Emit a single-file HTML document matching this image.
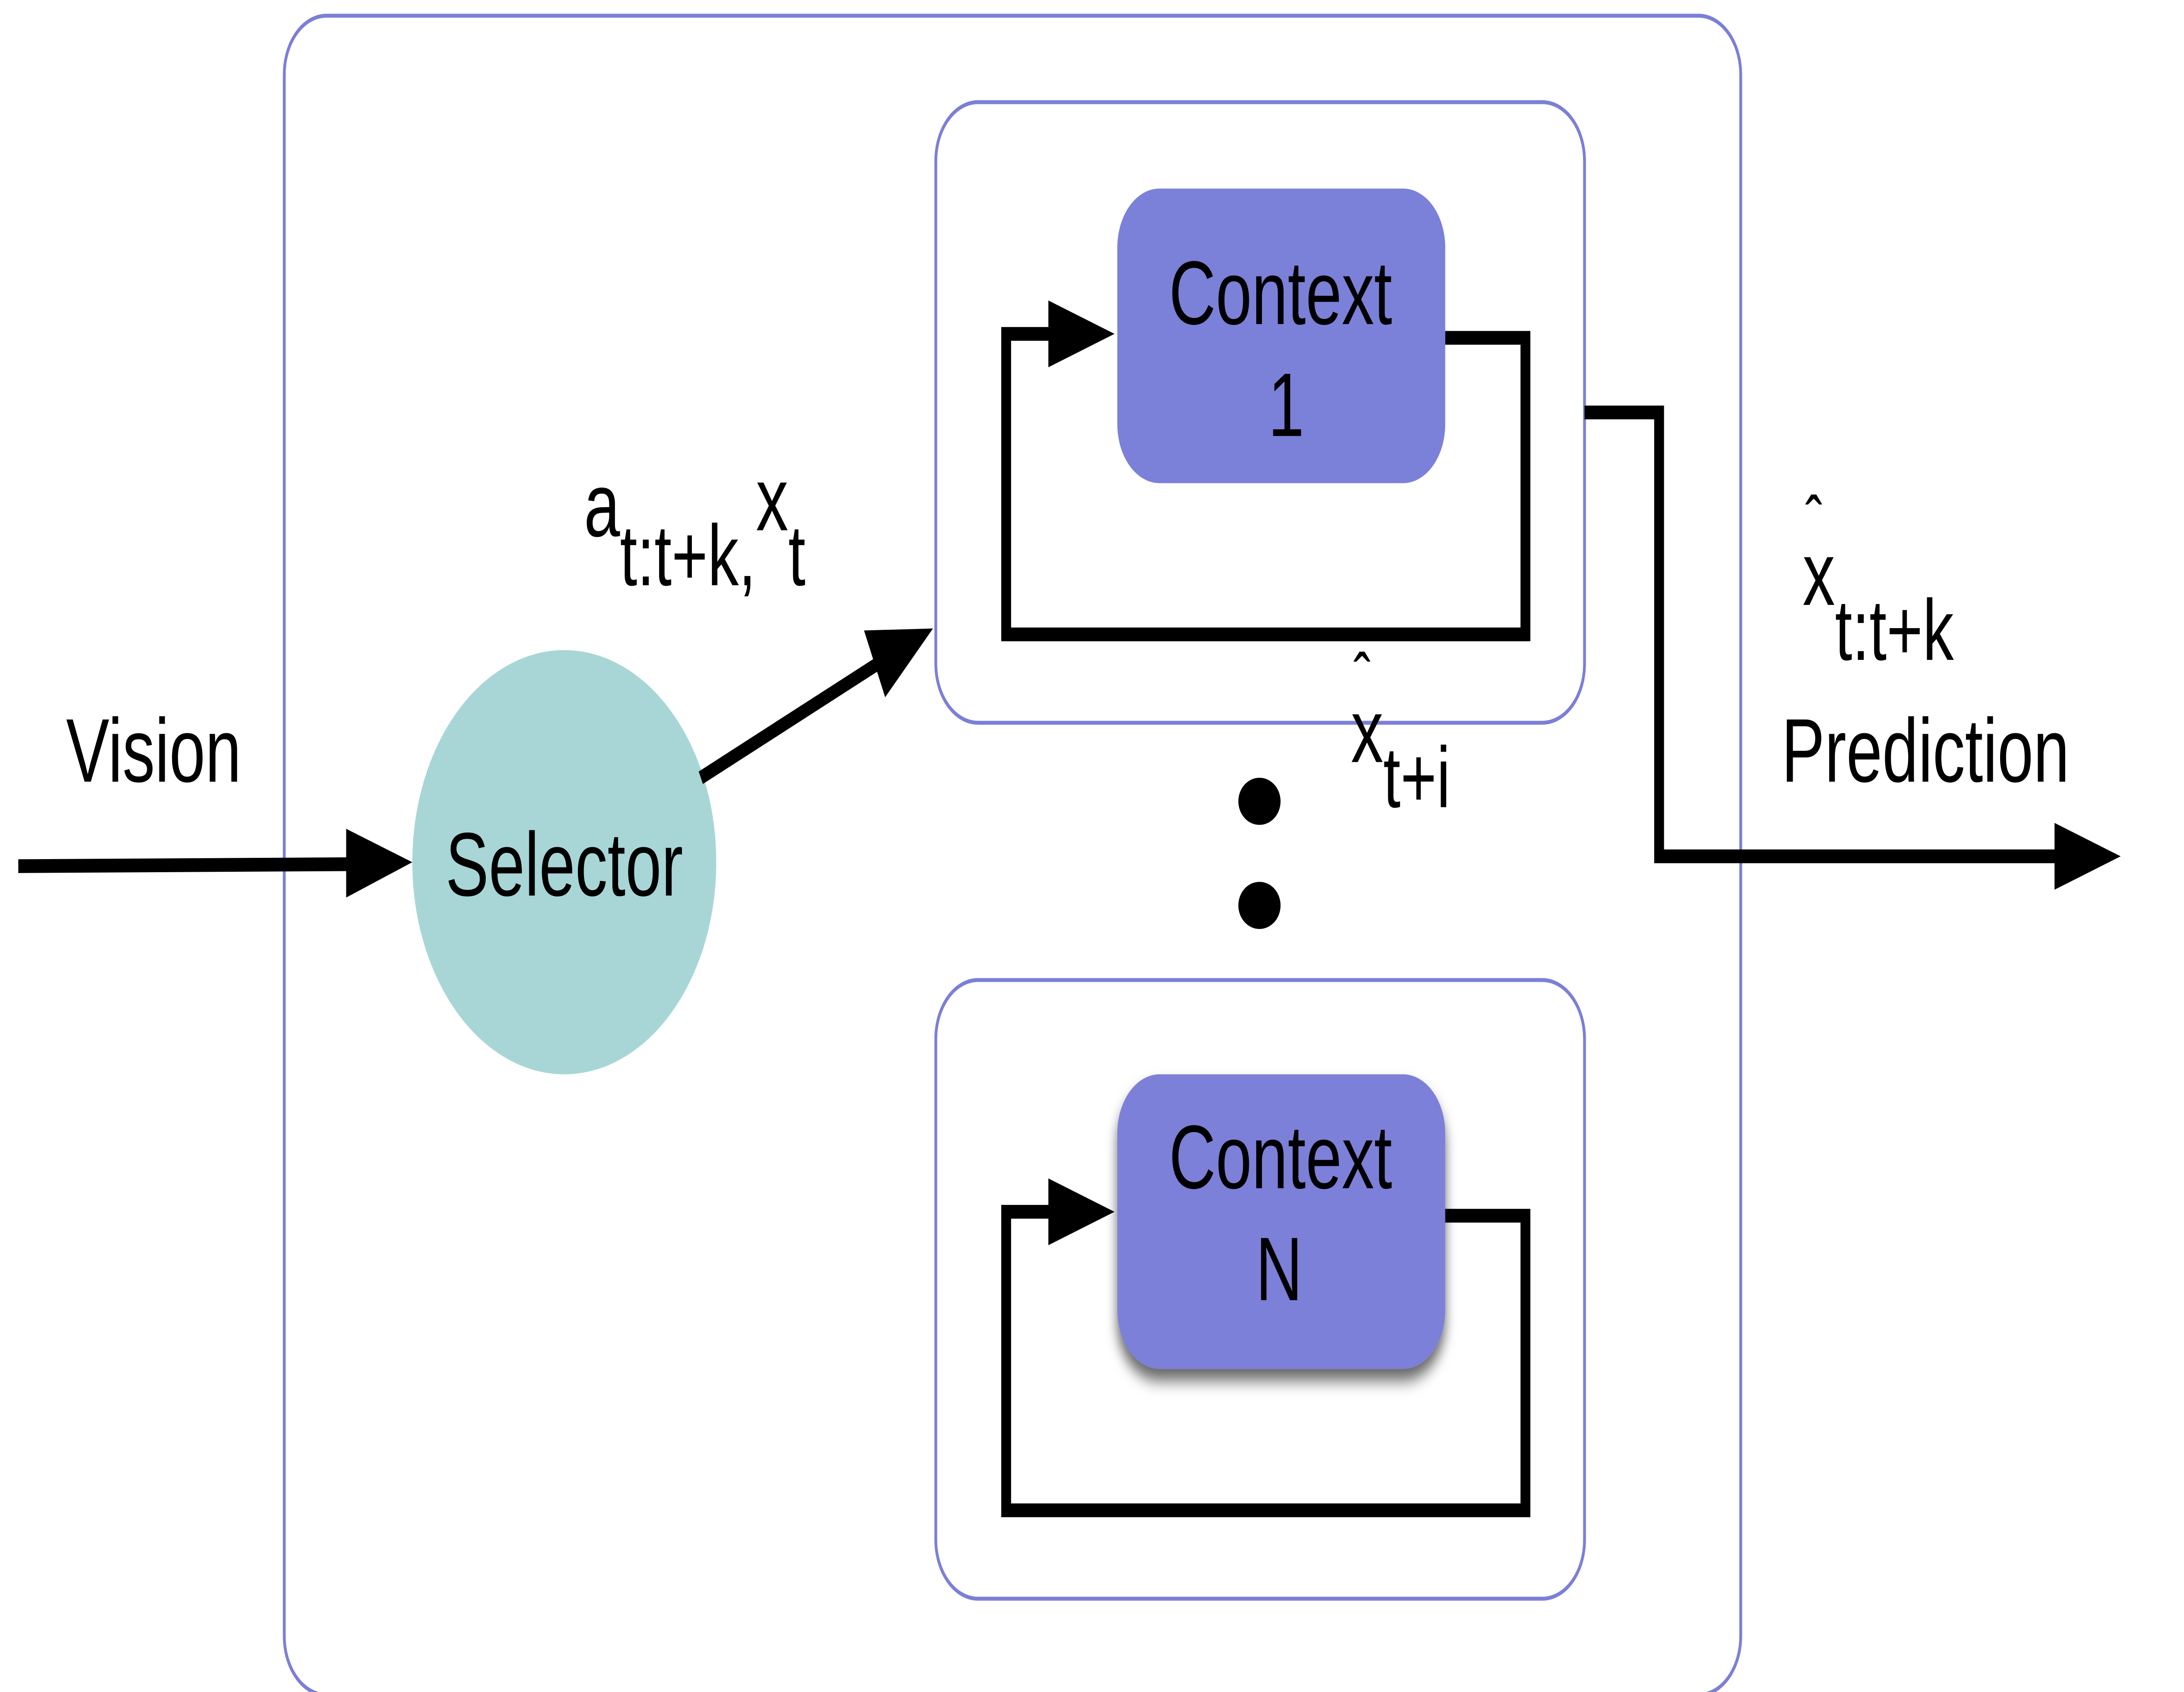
<!DOCTYPE html>
<html><head><meta charset="utf-8"><style>
html,body{margin:0;padding:0;background:#fff;width:100%;height:100%;overflow:hidden;}
svg{display:block;width:100vw;height:100vh;}
text{font-family:"Liberation Sans","DejaVu Sans",sans-serif;fill:#000;}
</style></head><body>
<svg viewBox="0 0 1552 861.5" preserveAspectRatio="none" xmlns="http://www.w3.org/2000/svg">
<defs>
<filter id="sh" x="-20%" y="-20%" width="140%" height="150%"><feDropShadow dx="0" dy="6" stdDeviation="4" flood-color="#000" flood-opacity="0.6"/></filter>
</defs>
<rect x="202" y="8" width="1035" height="855" rx="30" fill="none" stroke="#7b7fd6" stroke-width="2"/>
<rect x="665" y="52" width="461" height="316" rx="30" fill="none" stroke="#7b7fd6" stroke-width="2"/>
<rect x="665" y="499" width="461" height="315" rx="30" fill="none" stroke="#7b7fd6" stroke-width="2"/>

<g fill="none" stroke="#000" stroke-width="7">
<polyline points="747,170 715,170 715,323 1084,323 1084,172 1027,172"/>
</g>
<polygon points="745,153 792,170 745,187" fill="#000"/>
<g fill="none" stroke="#000" stroke-width="7">
<polyline points="747,617 715,617 715,769 1084,769 1084,619 1025,619"/>
</g>
<polygon points="745,600 792,617 745,634" fill="#000"/>

<rect x="794" y="96" width="233" height="150" rx="30" fill="#7b80d8"/>
<text x="910" y="165" font-size="46" text-anchor="middle">Context</text>
<text x="914" y="222" font-size="46" text-anchor="middle">1</text>
<rect x="794" y="547" width="233" height="150" rx="30" fill="#7b80d8" filter="url(#sh)"/>
<text x="910" y="605" font-size="46" text-anchor="middle">Context</text>
<text x="909" y="662" font-size="46" text-anchor="middle">N</text>

<circle cx="401" cy="439" r="108" fill="#a8d6d6"/>
<text x="401" y="456" font-size="46" text-anchor="middle">Selector</text>

<line x1="13" y1="441" x2="250" y2="440" stroke="#000" stroke-width="7"/>
<polygon points="246,422 293,439 246,457" fill="#000"/>
<line x1="498" y1="396" x2="628" y2="336" stroke="#000" stroke-width="7"/>
<polygon points="614,321 663,320 629,355" fill="#000"/>
<polyline points="1126,210 1179,210 1179,436 1462,436" fill="none" stroke="#000" stroke-width="7"/>
<polygon points="1460,419 1507,436 1460,453" fill="#000"/>

<ellipse cx="895" cy="408" rx="15" ry="12" fill="#000"/>
<ellipse cx="895" cy="461" rx="15" ry="12" fill="#000"/>

<text x="47" y="398" font-size="46">Vision</text>
<text x="1266" y="398" font-size="46">Prediction</text>
<text x="1281" y="308" font-size="46">x<tspan font-size="44" dy="28">t:t+k</tspan></text>
<text x="1283" y="278" font-size="36">ˆ</text>
<text x="415" y="273" font-size="46">a<tspan font-size="44" dy="25">t:t+k,</tspan><tspan dy="-28">x</tspan><tspan font-size="44" dy="28">t</tspan></text>
<text x="960" y="388" font-size="46">x<tspan font-size="44" dy="23">t+i</tspan></text>
<text x="962" y="358" font-size="36">ˆ</text>
</svg>
</body></html>
